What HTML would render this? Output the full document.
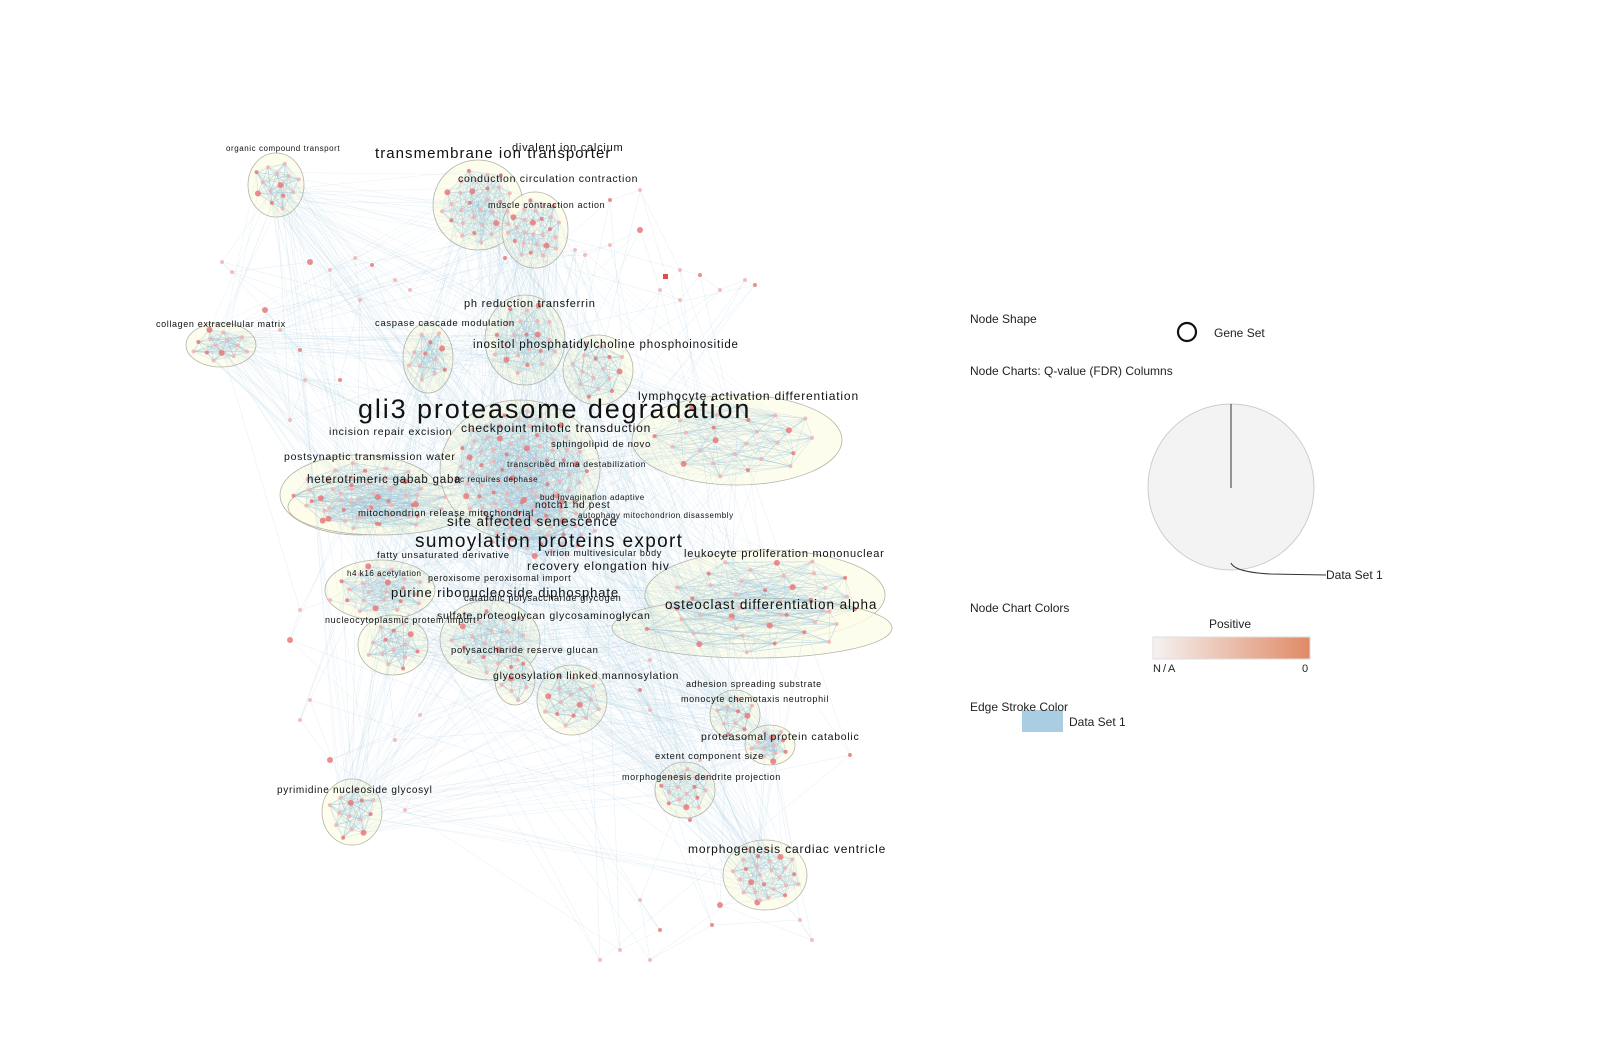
<!DOCTYPE html>
<html><head><meta charset="utf-8"><style>
html,body{margin:0;padding:0;background:#fff;width:1600px;height:1040px;overflow:hidden}
svg{display:block}
text{font-family:"Liberation Sans",sans-serif;fill:#111}
#labels text{letter-spacing:0.07em}
.lg{font-size:12px;fill:#222}
</style></head><body>
<svg id="net" width="1600" height="1040" viewBox="0 0 1600 1040" xmlns="http://www.w3.org/2000/svg">
<g id="clusters"></g>
<g id="edges"></g>
<g id="nodes"></g>
<g id="labels"></g>

<g>
<text class="lg" x="970" y="323">Node Shape</text>
<circle cx="1187" cy="332" r="9" fill="none" stroke="#111" stroke-width="2.2"/>
<text class="lg" x="1214" y="337">Gene Set</text>
<text class="lg" x="970" y="375">Node Charts: Q-value (FDR) Columns</text>
<circle cx="1231" cy="487" r="83" fill="#f3f3f3" stroke="#ccc" stroke-width="1"/>
<line x1="1231" y1="404" x2="1231" y2="488" stroke="#333" stroke-width="1"/>
<path d="M1231,563 Q1235,572 1270,574 L1326,575" fill="none" stroke="#333" stroke-width="1"/>
<text class="lg" x="1326" y="579">Data Set 1</text>
<text class="lg" x="970" y="612">Node Chart Colors</text>
<text class="lg" x="1209" y="628">Positive</text>
<defs><linearGradient id="grad"><stop offset="0" stop-color="#f5f2f1"/><stop offset="1" stop-color="#e08a66"/></linearGradient></defs>
<rect x="1153" y="637" width="157" height="22" fill="url(#grad)" stroke="#ddd"/>
<text class="lg" x="1153" y="672" style="font-size:11px;letter-spacing:2px">N/A</text>
<text class="lg" x="1302" y="672" style="font-size:11px">0</text>
<rect x="1022" y="710" width="41" height="22" fill="#abcde1"/>
<text class="lg" x="970" y="711">Edge Stroke Color</text>
<text class="lg" x="1069" y="726">Data Set 1</text>
</g>
</svg>
<script>
// cluster ellipses: cx, cy, rx, ry
const clusterCx=[276,478,535,221,428,525,598,737,360,380,520,765,752,380,393,490,515,572,735,770,685,352,765,540];
const clusterCy=[185,205,230,345,358,340,370,440,495,507,470,595,628,590,645,640,680,700,715,745,790,812,875,525];
const clusterRx=[28,45,33,35,25,40,35,105,80,92,80,120,140,55,35,50,20,35,25,25,30,30,42,70];
const clusterRy=[32,45,38,22,35,45,35,45,40,28,70,45,30,30,30,40,25,35,25,20,28,33,35,40];
const clusterNodes=[14,30,26,14,12,22,16,26,34,20,80,30,16,22,14,20,8,16,10,12,16,14,26,40];
// labels: text, x, y, size
const labelText=["organic compound transport","transmembrane ion transporter","divalent ion calcium","conduction circulation contraction","muscle contraction action","collagen extracellular matrix","ph reduction transferrin","caspase cascade modulation","inositol phosphatidylcholine phosphoinositide","lymphocyte activation differentiation","gli3 proteasome degradation","incision repair excision","checkpoint mitotic transduction","sphingolipid de novo","postsynaptic transmission water","transcribed mrna destabilization","heterotrimeric gabab gaba","pc requires dephase","bud invagination adaptive","notch1 hd pest","mitochondrion release mitochondrial","autophagy mitochondrion disassembly","site affected senescence","sumoylation proteins export","fatty unsaturated derivative","virion multivesicular body","leukocyte proliferation mononuclear","recovery elongation hiv","h4 k16 acetylation","peroxisome peroxisomal import","purine ribonucleoside diphosphate","catabolic polysaccharide glycogen","osteoclast differentiation alpha","nucleocytoplasmic protein import","sulfate proteoglycan glycosaminoglycan","polysaccharide reserve glucan","glycosylation linked mannosylation","adhesion spreading substrate","monocyte chemotaxis neutrophil","proteasomal protein catabolic","extent component size","morphogenesis dendrite projection","pyrimidine nucleoside glycosyl","morphogenesis cardiac ventricle"];
const labelX=[226,375,512,458,488,156,464,375,473,638,358,329,461,551,284,507,307,455,540,535,358,578,447,415,377,545,684,527,347,428,391,464,665,325,437,451,493,686,681,701,655,622,277,688];
const labelY=[151,158,151,182,208,327,307,326,348,400,418,435,432,447,460,467,483,482,500,508,516,518,526,547,558,556,557,570,576,581,597,601,609,623,619,653,679,687,702,740,759,780,793,853];
const labelSize=[8,15,11,10.5,9,9,11,9.5,11.5,12,27,10.5,12,9.5,10.5,8.5,11.5,8,8,10,9.5,8,13.5,19,9.5,9,11,12,8,9,13,9,13.5,9,10.5,9.5,10.5,9,9,10.5,9.5,9,10,12];
// loose scattered nodes (x,y)
const looseX=[222,232,310,330,355,372,395,410,505,585,610,640,660,680,700,720,745,755,420,395,290,300,330,640,650,700,690,310,300,330,405,620,660,640,650,712,800,812,720,760,650,610,640,680,850,600,575,265,290,305,340,360,280,300];
const looseY=[262,272,262,270,258,265,280,290,258,255,245,230,290,300,275,290,280,285,715,740,640,610,600,690,710,760,820,700,720,760,810,950,930,900,960,925,920,940,905,900,660,200,190,270,755,960,250,310,420,380,380,300,330,350];

const NS="http://www.w3.org/2000/svg";
function mk(tag,attrs,parent){const e=document.createElementNS(NS,tag);for(const k in attrs)e.setAttribute(k,attrs[k]);parent.appendChild(e);return e;}
const gE=document.getElementById('edges'),gC=document.getElementById('clusters'),gN=document.getElementById('nodes'),gL=document.getElementById('labels');
const ga=2.39996;
let allNodes=[];const clusterPts=[];
const EC='#9cc3dc';
clusterCx.forEach((cx,i)=>{
  const cy=clusterCy[i],rx=clusterRx[i],ry=clusterRy[i],n=clusterNodes[i];
  const el=mk('ellipse',{cx:cx,cy:cy,rx:rx,ry:ry,fill:i===23?'none':'#fcfce9','fill-opacity':0.8,stroke:i===23?'none':'#b5b2a4','stroke-width':0.8},gC);
  
  
  const pts=[];
  for(let k=0;k<n;k++){const r=Math.sqrt((k+0.5)/n)*0.85;const a=k*ga+i;pts.push([cx+Math.cos(a)*r*rx,cy+Math.sin(a)*r*ry]);}
  pts.forEach((p,k)=>{
    [1,2,3,5,8,13].forEach(s=>{const q=pts[(k+s)%n];mk('line',{x1:p[0],y1:p[1],x2:q[0],y2:q[1],stroke:EC,'stroke-opacity':0.4,'stroke-width':0.6},gE);});
  });
  clusterPts.push(pts);
  allNodes=allNodes.concat(pts);
});
// inter-cluster edges
clusterPts.forEach((pts,i)=>{
  [1,2,3,5,7,10].forEach(d=>{
    const j=(i+d)%clusterPts.length;const qs=clusterPts[j];
    for(let k=0;k<Math.min(6,pts.length);k++){const p=pts[(k*3)%pts.length],q=qs[(k*5)%qs.length];
      mk('line',{x1:p[0],y1:p[1],x2:q[0],y2:q[1],stroke:EC,'stroke-opacity':0.22,'stroke-width':0.5},gE);}
  });
  const hub=clusterPts[10];
  pts.forEach((p,k)=>{if(k%2===0){const q=hub[(k*7)%hub.length];mk('line',{x1:p[0],y1:p[1],x2:q[0],y2:q[1],stroke:EC,'stroke-opacity':0.2,'stroke-width':0.5},gE);}});
});
looseX.forEach((x,i)=>{
  const y=looseY[i];
  [0,5].forEach(o=>{const j=(i*7+o)%clusterCx.length;
  mk('line',{x1:x,y1:y,x2:clusterCx[j],y2:clusterCy[j],stroke:EC,'stroke-opacity':0.3,'stroke-width':0.5},gE);});
  const x2=looseX[(i+1)%looseX.length],y2=looseY[(i+1)%looseY.length];
  mk('line',{x1:x,y1:y,x2:x2,y2:y2,stroke:EC,'stroke-opacity':0.3,'stroke-width':0.5},gE);
  allNodes.push([x,y]);
});
allNodes.forEach((p,k)=>{
  const c=mk('circle',{cx:p[0].toFixed(1),cy:p[1].toFixed(1),r:k%9===0?3:2,fill:k%3===0?'#ea7a7a':'#f3b3b3','fill-opacity':0.85},gN);
  
  
});
mk('rect',{x:663,y:274,width:5,height:5,fill:'#e34c4c'},gN);
labelText.forEach((t,i)=>{
  const tx=mk('text',{x:labelX[i],y:labelY[i],'font-size':labelSize[i]},gL);
  tx.textContent=t;
  
  
});
</script>
</body></html>
